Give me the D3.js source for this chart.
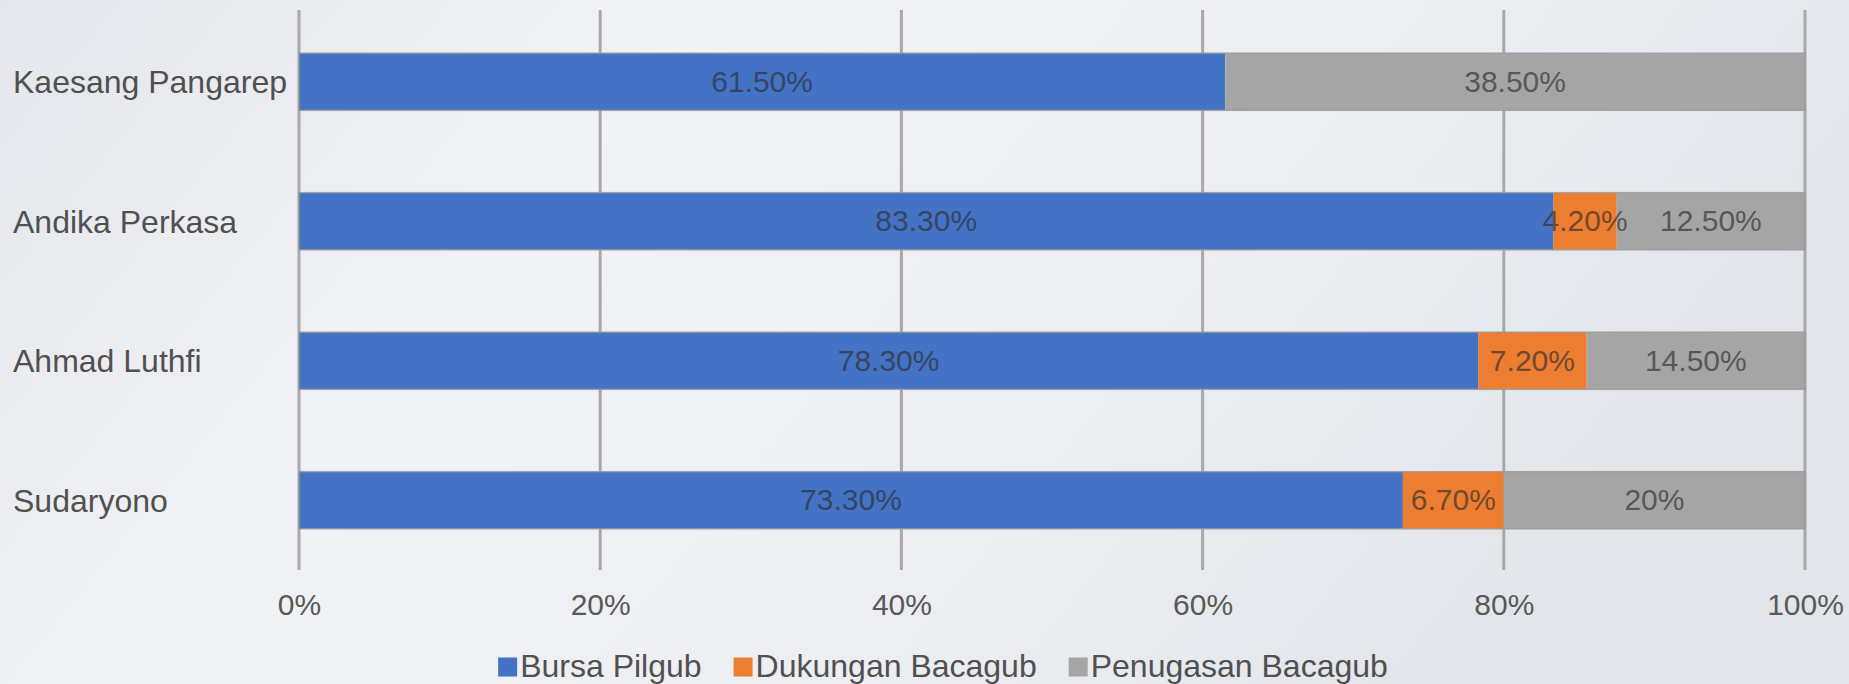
<!DOCTYPE html>
<html>
<head>
<meta charset="utf-8">
<script src="https://cdn.jsdelivr.net/npm/d3@7"></script>
<style>
  html, body { margin: 0; padding: 0; }
  body { width: 1849px; height: 684px; overflow: hidden; }
  svg { display: block; font-family: "Liberation Sans", Arial, sans-serif; }
</style>
</head>
<body>
<div id="chart"></div>
<script>
const candidates = ['Kaesang Pangarep', 'Andika Perkasa', 'Ahmad Luthfi', 'Sudaryono'];
const seriesNames = ['Bursa Pilgub', 'Dukungan Bacagub', 'Penugasan Bacagub'];
const bursa = [61.5, 83.3, 78.3, 73.3];
const dukungan = [0, 4.2, 7.2, 6.7];
const penugasan = [38.5, 12.5, 14.5, 20];
const tickValues = [0, 20, 40, 60, 80, 100];
const colors = ['#4472c4', '#ed7d31', '#a5a5a5'];

const width = 1849, height = 684;
const margin = {top: 12, right: 44, bottom: 114, left: 299};

const rows = candidates.map((name, i) => ({
  name,
  'Bursa Pilgub': bursa[i],
  'Dukungan Bacagub': dukungan[i],
  'Penugasan Bacagub': penugasan[i]
}));

const stacked = d3.stack().keys(seriesNames)(rows);

const svg = d3.select('#chart').append('svg')
  .attr('width', width)
  .attr('height', height);

// background
const defs = svg.append('defs');
const grad = defs.append('linearGradient')
  .attr('id', 'bg')
  .attr('x1', '0').attr('x2', '1').attr('y1', '0').attr('y2', '0.3');
grad.append('stop').attr('offset', '0%').attr('stop-color', '#e3e6eb');
grad.append('stop').attr('offset', '35%').attr('stop-color', '#f1f2f5');
grad.append('stop').attr('offset', '70%').attr('stop-color', '#eceef2');
grad.append('stop').attr('offset', '100%').attr('stop-color', '#e2e5ea');
svg.append('rect').attr('width', width).attr('height', height).attr('fill', 'url(#bg)');

const x = d3.scaleLinear()
  .domain([0, 100])
  .range([margin.left, width - margin.right]);

const y = d3.scaleBand()
  .domain(candidates)
  .range([margin.top, height - margin.bottom])
  .paddingInner(0.59)
  .paddingOuter(0.295);

// gridlines
svg.append('g')
  .selectAll('line')
  .data(tickValues)
  .join('line')
  .attr('x1', d => x(d)).attr('x2', d => x(d))
  .attr('y1', margin.top - 2).attr('y2', height - margin.bottom)
  .attr('stroke', '#a9a9a9')
  .attr('stroke-width', 3);

// x tick labels
const xAxis = svg.append('g')
  .attr('transform', `translate(0,${height - margin.bottom})`)
  .call(d3.axisBottom(x).tickValues(tickValues).tickFormat(d => d + '%').tickSize(0).tickPadding(24));
xAxis.select('.domain').remove();
xAxis.selectAll('text')
  .attr('font-size', 30)
  .attr('font-family', '"Liberation Sans", Arial, sans-serif')
  .attr('fill', '#595959');

// category labels
svg.append('g')
  .selectAll('text')
  .data(candidates)
  .join('text')
  .attr('x', 13)
  .attr('y', d => y(d) + y.bandwidth() / 2 + 3)
  .attr('dominant-baseline', 'middle')
  .attr('font-size', 32)
  .attr('fill', '#505050')
  .text(d => d);

// bars
const layer = svg.append('g')
  .selectAll('g')
  .data(stacked)
  .join('g')
  .attr('fill', (d, i) => colors[i]);

layer.selectAll('rect')
  .data(d => d)
  .join('rect')
  .attr('x', d => x(d[0]))
  .attr('y', d => y(d.data.name))
  .attr('width', d => x(d[1]) - x(d[0]))
  .attr('height', y.bandwidth());

// bar outlines
svg.append('g')
  .selectAll('rect')
  .data(candidates)
  .join('rect')
  .attr('x', x(0))
  .attr('y', d => y(d))
  .attr('width', x(100) - x(0))
  .attr('height', y.bandwidth())
  .attr('fill', 'none')
  .attr('stroke', '#9a9a9a')
  .attr('stroke-opacity', 0.8)
  .attr('stroke-width', 1.5);

// value labels
const fmt = v => (Number.isInteger(v) ? v : v.toFixed(2)) + '%';
stacked.forEach(s => {
  svg.append('g')
    .selectAll('text')
    .data(s.filter(d => d[1] - d[0] > 0))
    .join('text')
    .attr('x', d => x((d[0] + d[1]) / 2))
    .attr('y', d => y(d.data.name) + y.bandwidth() / 2 + 2)
    .attr('text-anchor', 'middle')
    .attr('dominant-baseline', 'middle')
    .attr('font-size', 30)
    .attr('fill', '#2f2f2f')
    .attr('fill-opacity', 0.68)
    .text(d => fmt(d[1] - d[0]));
});

// legend
const legend = svg.append('g');
const sq = 19, gapText = 3, gapItem = 32, legendY = 667;
let cursor = 0;
seriesNames.forEach((name, i) => {
  const g = legend.append('g');
  g.append('rect')
    .attr('x', 0).attr('y', -sq / 2)
    .attr('width', sq).attr('height', sq)
    .attr('fill', colors[i]);
  const t = g.append('text')
    .attr('x', sq + gapText)
    .attr('y', 2)
    .attr('dominant-baseline', 'middle')
    .attr('font-size', 32)
    .attr('fill', '#505050')
    .text(name);
  const w = sq + gapText + t.node().getComputedTextLength();
  g.attr('transform', `translate(${cursor},0)`);
  cursor += w + gapItem;
});
const totalW = cursor - gapItem;
legend.attr('transform', `translate(${943 - totalW / 2},${legendY})`);
</script>
</body>
</html>
